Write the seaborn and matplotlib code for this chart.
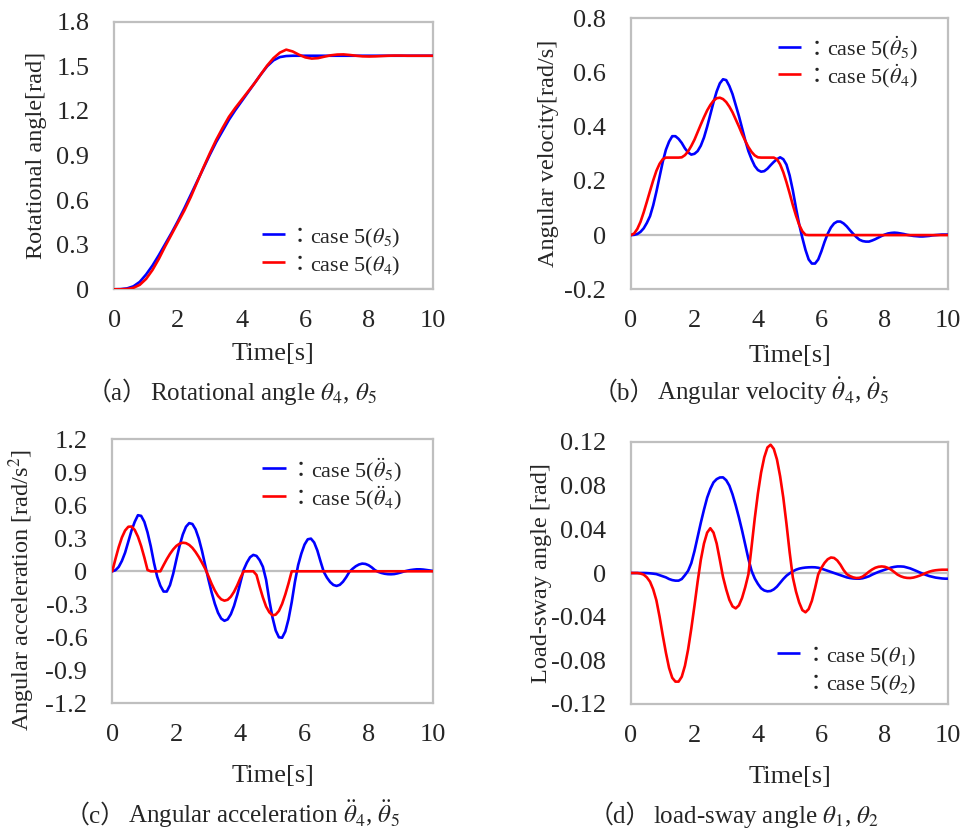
import numpy as np
import pandas as pd
import matplotlib
matplotlib.use("Agg")
import matplotlib.pyplot as plt
import seaborn as sns
from matplotlib.lines import Line2D
from matplotlib.ticker import FuncFormatter, FixedLocator

# ---------------- data ----------------
time_a = np.linspace(0, 10, 51)    # 0.2 s samples (panel a)
time_f = np.linspace(0, 10, 101)   # 0.1 s samples (panels b, c, d)

theta5 = [0, 0.001, 0.006, 0.02, 0.05, 0.10, 0.16, 0.23, 0.305, 0.38, 0.46, 0.545, 0.635,
          0.725, 0.815, 0.905, 0.99, 1.065, 1.14, 1.205, 1.265, 1.325, 1.385, 1.445, 1.50,
          1.54, 1.562, 1.569, 1.571, 1.571, 1.571, 1.571, 1.571, 1.571, 1.571, 1.571, 1.571,
          1.571, 1.571, 1.571, 1.571, 1.571, 1.571, 1.571, 1.571, 1.571, 1.571, 1.571, 1.571,
          1.571, 1.571]
theta4 = [0, 0.0, 0.002, 0.01, 0.03, 0.07, 0.13, 0.205, 0.29, 0.37, 0.45, 0.53, 0.62, 0.72,
          0.82, 0.915, 1.005, 1.085, 1.16, 1.22, 1.275, 1.33, 1.385, 1.445, 1.505, 1.555,
          1.592, 1.612, 1.60, 1.578, 1.56, 1.552, 1.555, 1.565, 1.574, 1.579, 1.58, 1.576,
          1.571, 1.567, 1.566, 1.567, 1.569, 1.571, 1.572, 1.572, 1.571, 1.571, 1.571, 1.571,
          1.571]

dtheta5 = [0, 0.001, 0.004, 0.012, 0.025, 0.045, 0.07, 0.11, 0.16, 0.215,
           0.27, 0.315, 0.345, 0.365, 0.365, 0.355, 0.34, 0.32, 0.305, 0.297,
           0.30, 0.31, 0.33, 0.36, 0.40, 0.445, 0.49, 0.53, 0.56, 0.575,
           0.572, 0.55, 0.52, 0.48, 0.44, 0.395, 0.35, 0.31, 0.28, 0.255,
           0.24, 0.234, 0.236, 0.245, 0.258, 0.27, 0.28, 0.287, 0.28, 0.26,
           0.22, 0.165, 0.10, 0.04, -0.01, -0.055, -0.09, -0.105, -0.105, -0.09,
           -0.06, -0.025, 0.005, 0.028, 0.043, 0.05, 0.05, 0.043, 0.032, 0.018,
           0.005, -0.007, -0.017, -0.022, -0.024, -0.024, -0.02, -0.015, -0.009, -0.003,
           0.002, 0.006, 0.008, 0.009, 0.008, 0.006, 0.004, 0.001, -0.001, -0.003,
           -0.004, -0.005, -0.005, -0.004, -0.003, -0.001, 0.0, 0.001, 0.002, 0.002,
           0.002]
dtheta4 = [0, 0.006, 0.023, 0.049, 0.084, 0.123, 0.163, 0.202, 0.237, 0.263,
           0.28, 0.286, 0.286, 0.286, 0.286, 0.286, 0.287, 0.295, 0.309, 0.329,
           0.352, 0.38, 0.408, 0.435, 0.46, 0.48, 0.496, 0.505, 0.507, 0.502,
           0.491, 0.474, 0.453, 0.427, 0.401, 0.373, 0.348, 0.325, 0.307, 0.294,
           0.287, 0.286, 0.286, 0.286, 0.286, 0.286, 0.28, 0.261, 0.232, 0.195,
           0.154, 0.111, 0.072, 0.038, 0.014, 0.001, 0, 0, 0, 0,
           0, 0, 0, 0, 0, 0, 0, 0, 0, 0,
           0, 0, 0, 0, 0, 0, 0, 0, 0, 0,
           0, 0, 0, 0, 0, 0, 0, 0, 0, 0,
           0, 0, 0, 0, 0, 0, 0, 0, 0, 0,
           0]

ddtheta5 = [0, 0.01, 0.04, 0.095, 0.17, 0.27, 0.37, 0.45, 0.51, 0.504,
            0.45, 0.353, 0.228, 0.078, -0.048, -0.131, -0.184, -0.184, -0.126, -0.023,
            0.107, 0.232, 0.334, 0.405, 0.438, 0.43, 0.381, 0.297, 0.185, 0.054,
            -0.074, -0.192, -0.295, -0.377, -0.43, -0.45, -0.437, -0.39, -0.314, -0.214,
            -0.099, 0.014, 0.079, 0.128, 0.149, 0.14, 0.101, 0.041, -0.077, -0.262,
            -0.42, -0.538, -0.60, -0.604, -0.547, -0.435, -0.28, -0.096, 0.056, 0.161,
            0.243, 0.291, 0.297, 0.262, 0.189, 0.089, -0.005, -0.058, -0.098, -0.124,
            -0.133, -0.123, -0.095, -0.054, -0.005, 0.023, 0.046, 0.062, 0.07, 0.067,
            0.055, 0.035, 0.01, -0.005, -0.015, -0.022, -0.026, -0.027, -0.025, -0.019,
            -0.011, -0.002, 0.005, 0.011, 0.015, 0.018, 0.018, 0.016, 0.012, 0.008,
            0.003]
ddtheta4 = [0, 0.114, 0.22, 0.308, 0.371, 0.405, 0.407, 0.376, 0.315, 0.23,
            0.126, 0.012, 0, 0, 0, 0, 0.056, 0.11, 0.158, 0.199,
            0.231, 0.251, 0.26, 0.256, 0.24, 0.213, 0.175, 0.13, 0.078, 0.023,
            -0.044, -0.114, -0.175, -0.224, -0.255, -0.267, -0.259, -0.231, -0.186, -0.127,
            -0.059, 0, 0, 0, 0, -0.033, -0.14, -0.238, -0.32, -0.372,
            -0.40, -0.394, -0.36, -0.296, -0.21, -0.11, 0, 0, 0, 0,
            0, 0, 0, 0, 0, 0, 0, 0, 0, 0,
            0, 0, 0, 0, 0, 0, 0, 0, 0, 0,
            0, 0, 0, 0, 0, 0, 0, 0, 0, 0,
            0, 0, 0, 0, 0, 0, 0, 0, 0, 0,
            0]

theta1 = [0, 0, 0, 0, 0, -0.0001, -0.0003, -0.0006, -0.001, -0.002,
          -0.003, -0.004, -0.0055, -0.0065, -0.007, -0.007, -0.0055, -0.002, 0.002, 0.009,
          0.02, 0.033, 0.046, 0.058, 0.069, 0.077, 0.083, 0.086, 0.0875, 0.0876,
          0.085, 0.08, 0.072, 0.062, 0.051, 0.039, 0.026, 0.013, 0.002, -0.005,
          -0.01, -0.014, -0.016, -0.0168, -0.0165, -0.015, -0.0125, -0.009, -0.0055, -0.0025,
          -0.0003, 0.0015, 0.003, 0.004, 0.0046, 0.005, 0.0052, 0.0053, 0.0052, 0.0048,
          0.004, 0.003, 0.002, 0.001, 0.0, -0.001, -0.002, -0.003, -0.004, -0.0046,
          -0.005, -0.0052, -0.0052, -0.0048, -0.004, -0.003, -0.0015, -0.0002, 0.001, 0.002,
          0.003, 0.004, 0.005, 0.0056, 0.006, 0.006, 0.0058, 0.005, 0.0042, 0.003,
          0.0018, 0.0005, -0.0007, -0.0018, -0.0028, -0.0035, -0.0042, -0.0046, -0.005, -0.0052,
          -0.0052]
theta2 = [0, 0, 0, -0.0005, -0.0015, -0.004, -0.008, -0.015, -0.025, -0.04,
          -0.057, -0.073, -0.087, -0.096, -0.0995, -0.0995, -0.095, -0.085, -0.07, -0.051,
          -0.03, -0.008, 0.012, 0.027, 0.037, 0.041, 0.037, 0.027, 0.012, -0.0036,
          -0.015, -0.0246, -0.0306, -0.0324, -0.0297, -0.0229, -0.013, -0.0012, 0.024, 0.05,
          0.073, 0.092, 0.106, 0.115, 0.1175, 0.1137, 0.104, 0.0886, 0.069, 0.045,
          0.019, -0.004, -0.017, -0.027, -0.034, -0.036, -0.033, -0.0255, -0.014, -0.0013,
          0.0047, 0.0093, 0.0126, 0.0142, 0.0138, 0.0115, 0.0076, 0.0027, -0.001, -0.0028,
          -0.004, -0.0046, -0.0044, -0.0033, -0.0012, 0.0012, 0.0032, 0.0048, 0.0057, 0.006,
          0.0057, 0.0046, 0.003, 0.0008, -0.0015, -0.003, -0.004, -0.0045, -0.0046, -0.0042,
          -0.0034, -0.0024, -0.0012, 0.0001, 0.0012, 0.002, 0.0025, 0.0028, 0.003, 0.003,
          0.003]

x_ticks = [0, 2, 4, 6, 8, 10]
BLUE = "#0000ff"
RED = "#ff0000"
GRAY = "#bfbfbf"

# ---------------- style ----------------
sns.set_style("white")
FAM = ["Liberation Serif", "Noto Sans CJK JP"]
plt.rcParams["font.family"] = FAM
plt.rcParams["mathtext.fontset"] = "stix"
plt.rcParams["axes.unicode_minus"] = False

W, H = 962, 833
fig = plt.figure(figsize=(W / 100, H / 100), dpi=100)

def fx(x):
    return x / W

def fy(y):
    return 1 - y / H

def px_axes(l, t, r, b):
    return [l / W, 1 - b / H, (r - l) / W, (b - t) / H]

panels = [
    dict(box=(114.3, 21.7, 432.7, 289.3), time=time_a, blue=theta5, red=theta4,
         ylim=(0, 1.8), yticks=[0, 0.3, 0.6, 0.9, 1.2, 1.5, 1.8], dec=1,
         ylabel="Rotational angle[rad]", ylab=(-0.21, 0.5), xlab=-0.2,
         labels=[r"case 5($\theta_5$)", r"case 5($\theta_4$)"],
         leg=dict(x0=262, x1=285, rows=(234, 262), colon=300, text=310), red_handle=True,
         cap_tag="（a）", caption=r"Rotational angle $\theta_4$, $\theta_5$", cap=(150, 400)),
    dict(box=(631, 18.3, 948.3, 289.3), time=time_f, blue=dtheta5, red=dtheta4,
         ylim=(-0.2, 0.8), yticks=[-0.2, 0, 0.2, 0.4, 0.6, 0.8], dec=1,
         ylabel="Angular velocity[rad/s]", ylab=(-0.228, 0.5), xlab=-0.204,
         labels=[r"case 5($\dot{\theta}_5$)", r"case 5($\dot{\theta}_4$)"],
         leg=dict(x0=778, x1=801, rows=(46.7, 74.3), colon=816.7, text=826.7), red_handle=True,
         cap_tag="（b）", caption=r"Angular velocity $\dot{\theta}_4$, $\dot{\theta}_5$", cap=(657, 400)),
    dict(box=(112.3, 439.3, 432.7, 703.3), time=time_f, blue=ddtheta5, red=ddtheta4,
         ylim=(-1.2, 1.2), yticks=[-1.2, -0.9, -0.6, -0.3, 0, 0.3, 0.6, 0.9, 1.2], dec=1,
         ylabel=r"Angular acceleration [rad/s$^2$]", ylab=(-0.236, 0.43), xlab=-0.232,
         labels=[r"case 5($\ddot{\theta}_5$)", r"case 5($\ddot{\theta}_4$)"],
         leg=dict(x0=262, x1=286, rows=(468.3, 496), colon=301, text=311), red_handle=True,
         cap_tag="（c）", caption=r"Angular acceleration $\ddot{\theta}_4$, $\ddot{\theta}_5$", cap=(128, 823)),
    dict(box=(631, 442, 948.3, 704), time=time_f, blue=theta1, red=theta2,
         ylim=(-0.12, 0.12), yticks=[-0.12, -0.08, -0.04, 0, 0.04, 0.08, 0.12], dec=2,
         ylabel="Load-sway angle [rad]", ylab=(-0.25, 0.5), xlab=-0.235,
         labels=[r"case 5($\theta_1$)", r"case 5($\theta_2$)"],
         leg=dict(x0=777, x1=800.3, rows=(653, 681.3), colon=815.3, text=826), red_handle=False,
         cap_tag="（d）", caption=r"load-sway angle $\theta_1$, $\theta_2$", cap=(653, 823)),
]

FS_TICK = 19
FS_LAB = 17.5
FS_LEG = 16
FS_CAP = 18
LW = 1.9

for p in panels:
    ax = fig.add_axes(px_axes(*p["box"]))
    t = p["time"]
    df = pd.DataFrame({
        "Time": np.concatenate([t, t]),
        "value": np.concatenate([p["blue"], p["red"]]),
        "series": ["blue"] * len(t) + ["red"] * len(t),
    })
    ax.axhline(0, color=GRAY, lw=1.6, zorder=1)
    sns.lineplot(data=df, x="Time", y="value", hue="series",
                 palette={"blue": BLUE, "red": RED}, linewidth=LW,
                 legend=False, ax=ax, zorder=3)
    ax.set_xlim(0, 10)
    ax.set_ylim(*p["ylim"])
    ax.xaxis.set_major_locator(FixedLocator(x_ticks))
    ax.yaxis.set_major_locator(FixedLocator(p["yticks"]))
    dec = p["dec"]
    ax.yaxis.set_major_formatter(FuncFormatter(
        lambda v, pos, d=dec: "0" if abs(v) < 1e-9 else f"{v:.{d}f}"))
    ax.xaxis.set_major_formatter(FuncFormatter(lambda v, pos: f"{v:g}"))
    ax.tick_params(axis="both", length=0, labelsize=FS_TICK)
    ax.tick_params(axis="y", pad=18)
    ax.tick_params(axis="x", pad=15)
    for s in ax.spines.values():
        s.set_color(GRAY)
        s.set_linewidth(1.6)
        s.set_visible(True)
    ax.set_xlabel("Time[s]", fontsize=19)
    ax.xaxis.set_label_coords(0.5, p["xlab"])
    ax.set_ylabel(p["ylabel"], fontsize=FS_LAB)
    ax.yaxis.set_label_coords(*p["ylab"])

    # legend rows: handle line, full-width colon, label
    lg = p["leg"]
    colors = [BLUE, RED if p["red_handle"] else None]
    for row_y, col, lab in zip(lg["rows"], colors, p["labels"]):
        if col is not None:
            fig.add_artist(Line2D([fx(lg["x0"]), fx(lg["x1"])], [fy(row_y), fy(row_y)],
                                  transform=fig.transFigure, color=col, lw=LW,
                                  solid_capstyle="butt"))
        fig.text(fx(lg["colon"]), fy(row_y + 9), "：", family=FAM, fontsize=FS_LEG,
                 ha="center", va="baseline")
        fig.text(fx(lg["text"]), fy(row_y + 9), lab, fontsize=FS_LEG,
                 ha="left", va="baseline")

    # caption
    cx, cy = p["cap"]
    fig.text(fx(cx - 2), fy(cy), p["cap_tag"], family=FAM, fontsize=FS_CAP,
             ha="right", va="baseline")
    fig.text(fx(cx), fy(cy), p["caption"], fontsize=FS_CAP, ha="left", va="baseline")

fig.savefig("out.png", dpi=100)
